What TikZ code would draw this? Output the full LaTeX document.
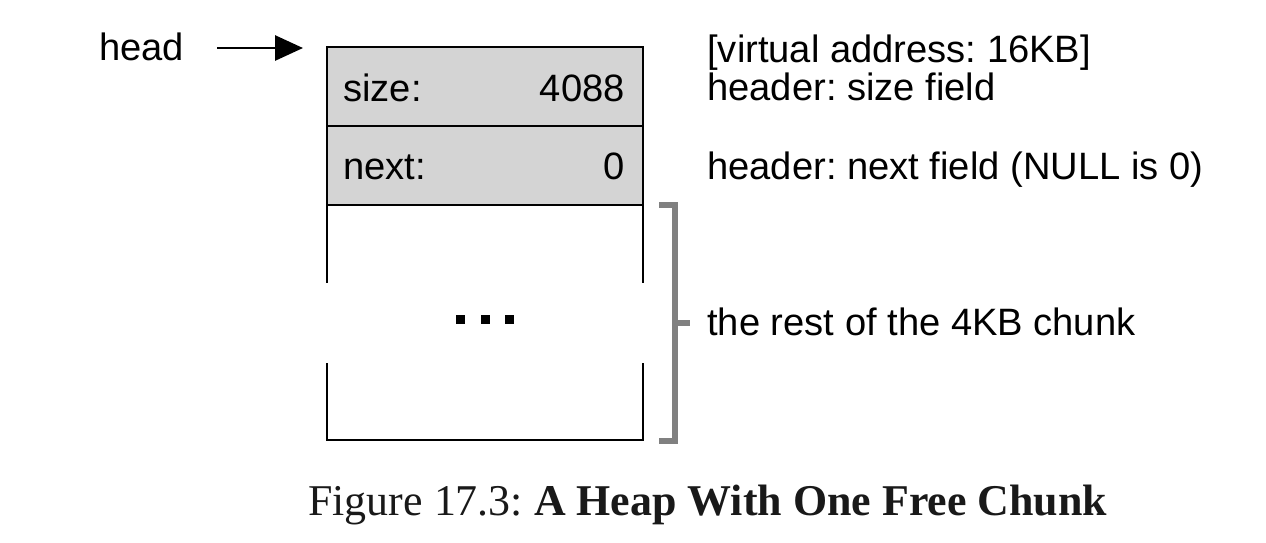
\documentclass[tikz,border=0pt]{standalone}
\usepackage{fontspec}
\setmainfont{Liberation Sans}
\newfontfamily\capfont{Liberation Serif}
\usetikzlibrary{arrows.meta}
\frenchspacing
\definecolor{fieldgray}{HTML}{D4D4D4}
\definecolor{brkgray}{HTML}{808080}
\tikzset{
  lbl/.style={anchor=base west,inner sep=0pt,font=\fontsize{21.7}{24}\selectfont},
  field/.style={draw,fill=fieldgray,line width=1.1pt,minimum width=6.32cm,minimum height=1.58cm,inner sep=0pt},
  brk/.style={draw=brkgray,line width=3.8pt},
  ptr/.style={line width=1.6pt,-{Triangle[length=0.56cm,width=0.5cm]}},
}
\begin{document}
\begin{tikzpicture}[x=0.02cm,y=-0.02cm]
\useasboundingbox (0,0) rectangle (1266,542);
% header of the free chunk
\node[field] (sizerow) at (485,86.5) {};
\node[field] (nextrow) at (485,165.5) {};
\node[lbl] (sizekey) at (343,101) {size:};
\node[lbl,anchor=base east] (sizeval) at (625,101) {4088};
\node[lbl] (nextkey) at (343,179) {next:};
\node[lbl,anchor=base east] (nextval) at (625,179) {0};
% body, broken in the middle
\draw[line width=1.1pt] (327,205) -- (327,283) (643,205) -- (643,283);
\draw[line width=1.1pt] (327,363) -- (327,440) -- (643,440) -- (643,363);
\foreach \x in {460,485,509}
\fill (\x-4.5,314.5) rectangle ++(9,9);
% head pointer
\node[lbl] (headlbl) at (99,60) {head};
\coordinate (tail) at (217,48);
\coordinate (ptrend) at (303,48);
\draw[ptr] (tail) -- (ptrend);
% bracket for the rest
\draw[brk] (659,205) -- (675,205) -- (675,441) -- (659,441);
\draw[brk] (675,323) -- (690,323);
% notes on the right
\foreach \n/\y/\texto in {addr/62/{[virtual address: 16KB]},sizenote/100/{header: size field},nextnote/179/{header: next field (NULL is 0)},restnote/335/{the rest of the 4KB chunk}}
\node[lbl] (\n) at (707,\y) {\texto};
\node[anchor=base west,inner sep=0pt,text=black!90,font=\capfont\fontsize{25}{30}\selectfont] (caption) at (308,515) {Figure 17.3: \textbf{A Heap With One Free Chunk}};
\end{tikzpicture}
\end{document}
